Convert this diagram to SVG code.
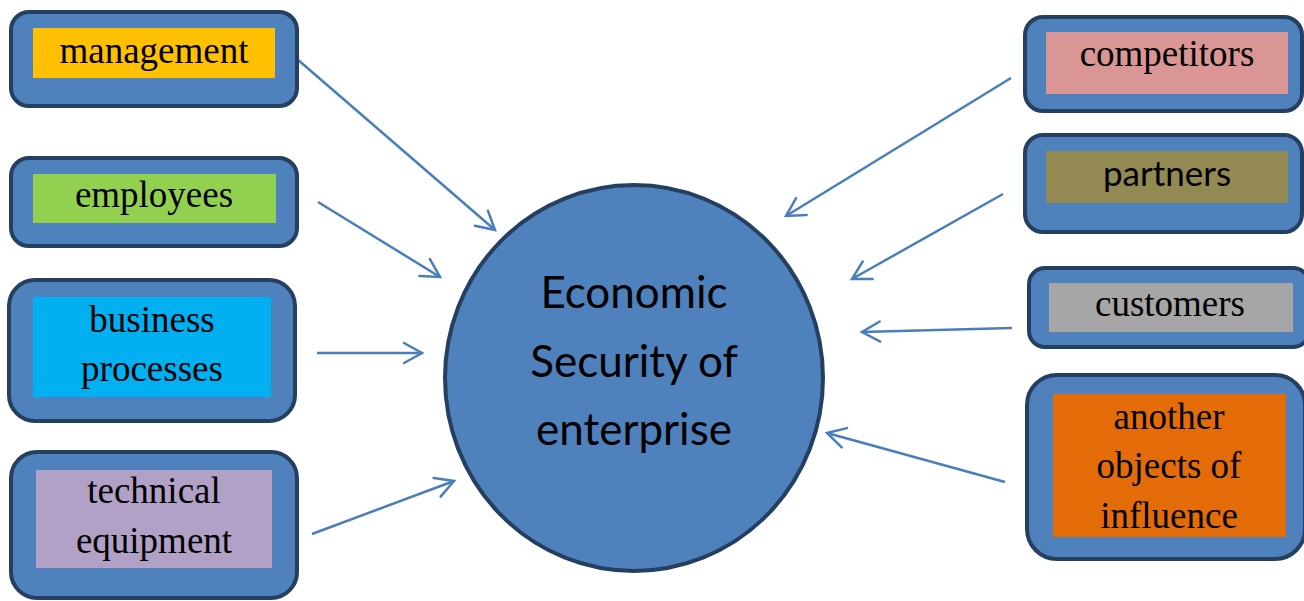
<svg xmlns="http://www.w3.org/2000/svg" width="1304" height="601" viewBox="0 0 1304 601">
<style>
.outer{fill:#4f81bd;stroke:#243f60;stroke-width:4}
.t{font-family:"Liberation Serif","Times New Roman",serif;font-size:37px;fill:#000;text-anchor:middle}
.s{font-family:Lato,"Open Sans",sans-serif;fill:#000;text-anchor:middle}
.c{fill:none;stroke:#4a7ebb;stroke-width:2.5;marker-end:url(#ah)}
</style>
<defs>
<marker id="ah" markerUnits="userSpaceOnUse" viewBox="-22 -13 26 26" refX="0" refY="0" markerWidth="26" markerHeight="26" orient="auto">
<path d="M-18,-10 L0,0 L-18,10" fill="none" stroke="#4a7ebb" stroke-width="2.5" stroke-linecap="round" stroke-linejoin="miter"/>
</marker>
</defs>
<rect width="1304" height="601" fill="#fff"/>
<g id="connectors">
<line class="c" x1="297" y1="59" x2="495" y2="230"/>
<line class="c" x1="318" y1="202" x2="440" y2="277"/>
<line class="c" x1="317" y1="353" x2="422" y2="353"/>
<line class="c" x1="312" y1="534" x2="454" y2="481"/>
<line class="c" x1="1011" y1="78" x2="786" y2="216"/>
<line class="c" x1="1003" y1="194" x2="852" y2="279"/>
<line class="c" x1="1012" y1="328" x2="862" y2="332"/>
<line class="c" x1="1005" y1="482" x2="827" y2="433"/>
</g>
<g id="center">
<ellipse cx="634" cy="378" rx="189" ry="193" class="outer"/>
<text class="s" font-size="44" x="634" y="308">Economic</text>
<text class="s" font-size="44" x="634" y="377">Security of</text>
<text class="s" font-size="44" x="634" y="445">enterprise</text>
</g>
<g id="management">
<rect class="outer" x="11" y="12" width="286" height="94" rx="18"/>
<rect x="33" y="28" width="242" height="50" fill="#ffc000"/>
<text class="t" x="154" y="63">management</text>
</g>
<g id="employees">
<rect class="outer" x="11" y="158" width="286" height="88" rx="18"/>
<rect x="33" y="174" width="243" height="49" fill="#92d050"/>
<text class="t" x="154" y="207">employees</text>
</g>
<g id="business-processes">
<rect class="outer" x="9" y="280" width="286" height="141" rx="26"/>
<rect x="33" y="297" width="238" height="100" fill="#00b0f0"/>
<text class="t" x="152" y="332">business</text>
<text class="t" x="152" y="381">processes</text>
</g>
<g id="technical-equipment">
<rect class="outer" x="11" y="452" width="286" height="146" rx="26"/>
<rect x="36" y="470" width="236" height="98" fill="#b2a1c7"/>
<text class="t" x="154" y="503">technical</text>
<text class="t" x="154" y="553">equipment</text>
</g>
<g id="competitors">
<rect class="outer" x="1025" y="17" width="277" height="94" rx="18"/>
<rect x="1046" y="32" width="242" height="62" fill="#d99694"/>
<text class="t" x="1167" y="66">competitors</text>
</g>
<g id="partners">
<rect class="outer" x="1025" y="135" width="277" height="97" rx="18"/>
<rect x="1046" y="151" width="242" height="52" fill="#938953"/>
<text class="s" font-size="35" x="1167" y="186">partners</text>
</g>
<g id="customers">
<rect class="outer" x="1029" y="268" width="280" height="79" rx="16"/>
<rect x="1049" y="283" width="244" height="49" fill="#a6a6a6"/>
<text class="t" x="1170" y="316">customers</text>
</g>
<g id="another-objects">
<rect class="outer" x="1027" y="375" width="278" height="184" rx="30"/>
<rect x="1053" y="394" width="233" height="143" fill="#e36c09"/>
<text class="t" x="1169" y="429">another</text>
<text class="t" x="1169" y="478">objects of</text>
<text class="t" x="1169" y="528">influence</text>
</g>
</svg>
